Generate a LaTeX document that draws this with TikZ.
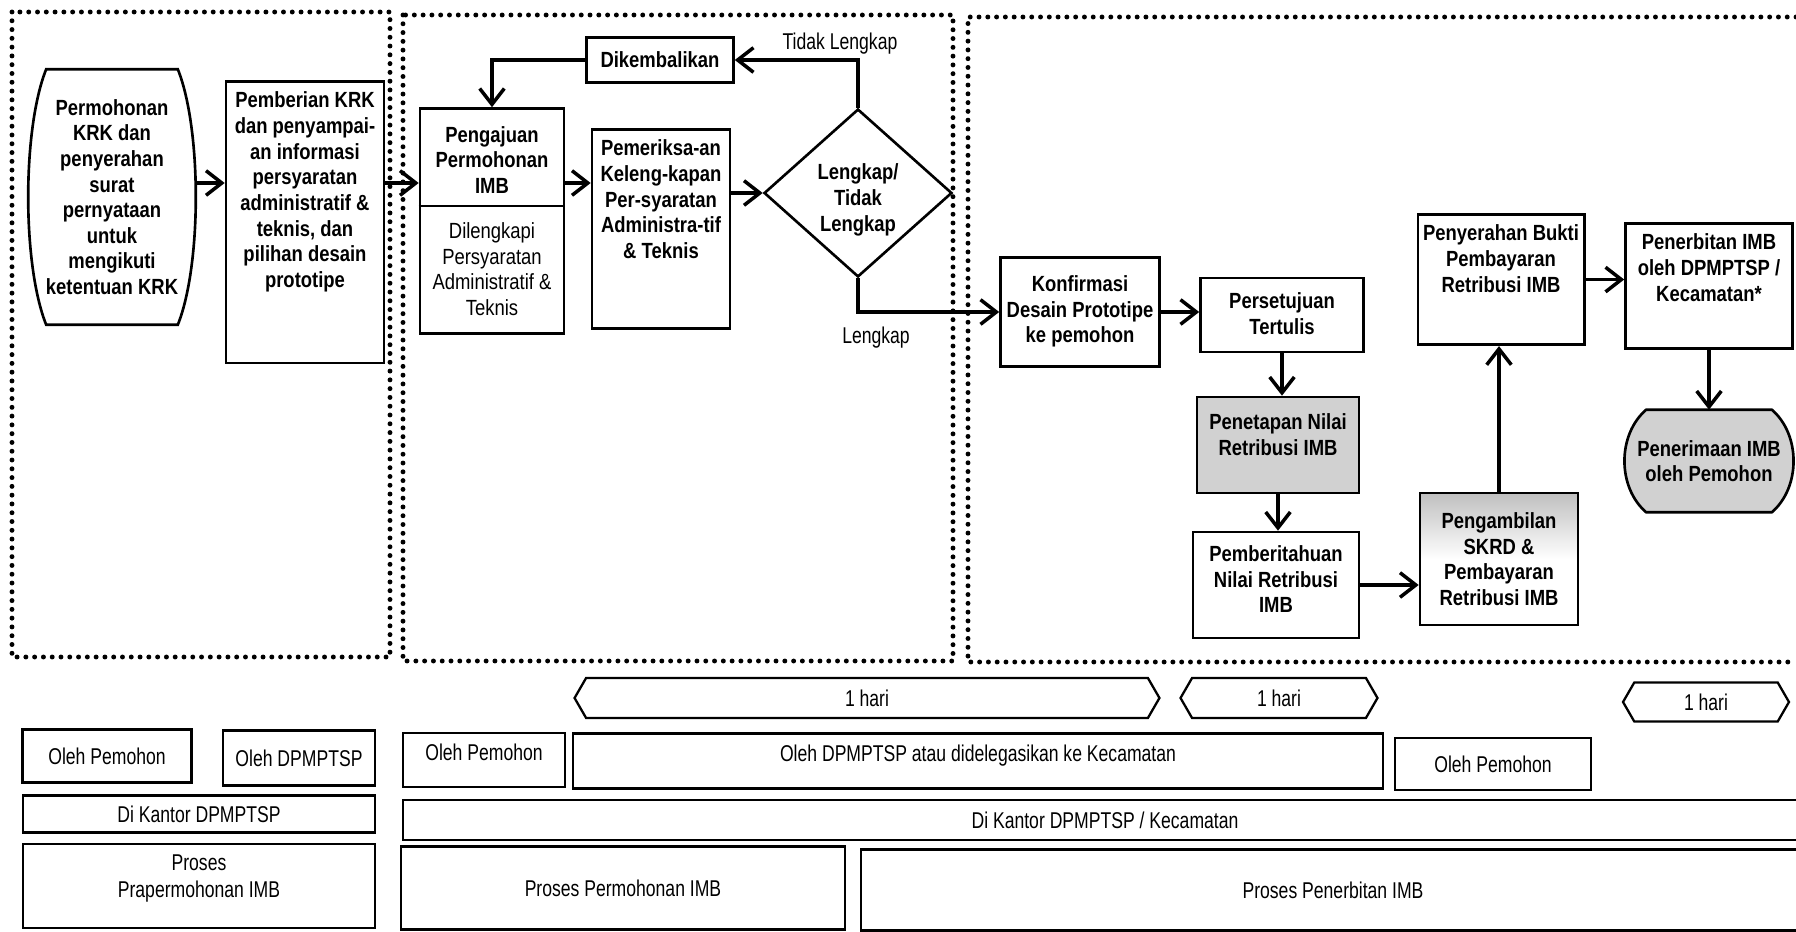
\documentclass[tikz,border=0pt]{standalone}
\usepackage{fontspec}
\setmainfont{Liberation Sans}[FakeStretch=0.84]
\newfontfamily\narrowfont{Liberation Sans}[FakeStretch=0.77]
\usetikzlibrary{arrows.meta,shapes.geometric,shapes.symbols,backgrounds}
\tikzset{
  box/.style={draw, line width=1.5pt, font=\fontsize{12.5}{14.6}\selectfont\bfseries,
    align=center, inner xsep=3pt, inner ysep=6pt},
  grey/.style={fill=black!18},
  arr/.style={line width=2pt, -{Straight Barb[length=9pt,width=14pt]}},
  zone/.style={line width=2.8pt, line cap=round, dash pattern=on 0pt off 5pt},
  cell/.style={draw, line width=1.3pt, font=\narrowfont\fontsize{13}{15.6}\selectfont,
    align=center, inner sep=2pt},
  daybox/.style={cell, signal, signal to=west and east, signal pointer angle=120},
  lbl/.style={font=\narrowfont\fontsize{13}{15.6}\selectfont}
}
% outline with bulging sides round a node
\newcommand\barrel[5][]{\draw[line width=1.5pt,#1]
  ([xshift=#3]#2.north west) -- ([xshift=-#3]#2.north east)
  .. controls +(#4,#5) and +(#4,-#5) .. ([xshift=-#3]#2.south east)
  -- ([xshift=#3]#2.south west)
  .. controls +(-#4,-#5) and +(-#4,#5) .. ([xshift=#3]#2.north west) -- cycle;}
\begin{document}
\begin{tikzpicture}[x=0.02cm,y=-0.02cm]
      \useasboundingbox (0,0) rectangle (1796,932);
      \draw[zone] (12,12) rectangle (390,657);
      \draw[zone] (403,15) rectangle (953,661);
      \draw[zone] (1796,17) -- (968,17) -- (968,662) -- (1796,662);

      \node[box, draw=none, inner xsep=0pt, minimum width=3.3cm, minimum height=5.06cm] (perm) at (112,197)
        {Permohonan\\KRK dan\\penyerahan\\surat\\pernyataan\\untuk\\mengikuti\\ketentuan KRK};
      \barrel{perm}{0.36cm}{24}{60}
      \node[box, anchor=north, minimum width=3.16cm, text depth=37pt] (pkrk) at (305,80)
        {Pemberian KRK\\dan penyampai-\\an informasi\\persyaratan\\administratif \&\\teknis, dan\\pilihan desain\\prototipe};
      \node[box, minimum width=2.88cm, minimum height=4.5cm] (paju) at (492,221)
        {Pengajuan\\Permohonan\\IMB\\[11pt]\mdseries Dilengkapi\\\mdseries Persyaratan\\\mdseries Administratif \&\\\mdseries Teknis};
      \coordinate (cut) at (0,206);
      \draw[line width=1.5pt] (paju.west |- cut) -- (paju.east |- cut);
      \node[box, anchor=north, minimum width=2.76cm, text depth=34pt] (pmrk) at (661,128)
        {Pemeriksa-an\\Keleng-kapan\\Per-syaratan\\Administra-tif\\\& Teknis};
      \node[box, minimum width=2.94cm, minimum height=0.9cm] (kmb) at (660,60) {Dikembalikan};
      \node[box, diamond, minimum width=3.76cm, minimum height=3.36cm, inner sep=0pt,
        text height=46pt] (cek) at (858,193)
        {Lengkap/\\Tidak\\Lengkap};
      \node[lbl] (tl) at (840,44) {Tidak Lengkap};
      \node[lbl] (lk) at (876,338) {Lengkap};

      \node[box, minimum width=3.18cm, minimum height=2.18cm, text depth=3pt] (konf) at (1080,312)
        {Konfirmasi\\Desain Prototipe\\ke pemohon};
      \node[box, minimum width=3.26cm, minimum height=1.48cm, text depth=2pt] (pers) at (1282,315)
        {Persetujuan\\Tertulis};
      \node[box, grey, minimum width=3.24cm, minimum height=1.92cm, text depth=12pt] (pnt) at (1278,445)
        {Penetapan Nilai\\Retribusi IMB};
      \node[box, minimum width=3.32cm, minimum height=2.12cm, text depth=6.5pt] (pbt) at (1276,585)
        {Pemberitahuan\\Nilai Retribusi\\IMB};
      \node[box, top color=black!25, bottom color=white, middle color=white,
        minimum width=3.16cm, minimum height=2.64cm] (pgb) at (1499,559)
        {Pengambilan\\SKRD \&\\Pembayaran\\Retribusi IMB};
      \node[box, anchor=north, minimum width=3.28cm, text depth=24pt] (pyr) at (1501,213)
        {Penyerahan Bukti\\Pembayaran\\Retribusi IMB};
      \node[box, anchor=north, minimum width=3.34cm, text depth=21pt] (pnb) at (1709,222)
        {Penerbitan IMB\\oleh DPMPTSP /\\Kecamatan*};
      \node[box, draw=none, inner xsep=0pt, minimum width=3.34cm, minimum height=2cm] (pnm) at (1709,461)
        {Penerimaan IMB\\oleh Pemohon};
      \begin{scope}[on background layer]
        \barrel[grey]{pnm}{0.44cm}{29}{25}
      \end{scope}

      \coordinate (row) at (0,183);
      \draw[arr] (perm.east |- row) to (pkrk.west |- row);
      \draw[arr] (pkrk.east |- row) to (paju.west |- row);
      \draw[arr] (paju.east |- row) to (pmrk.west |- row);
      \draw[arr] (pmrk.east |- cek.west) to (cek.west);
      \draw[arr] (cek.north) |- (kmb.east);
      \draw[arr] (kmb.west) -| (paju.north);
      \draw[arr] (cek.south) |- (konf.west);
      \draw[arr] (konf.east) to (konf.east -| pers.west);
      \draw[arr] (pers.south) to (pers.south |- pnt.north);
      \draw[arr] (pnt.south) to (pnt.south |- pbt.north);
      \draw[arr] (pbt.east) to (pbt.east -| pgb.west);
      \draw[arr] (pgb.north) to (pgb.north |- pyr.south);
      \draw[arr] (pyr.east) to (pyr.east -| pnb.west);
      \draw[arr] (pnb.south) to (pnb.south |- pnm.north);

      \node[daybox, minimum width=11.7cm, minimum height=0.8cm] (d1) at (867,698) {1 hari};
      \node[daybox, minimum width=3.94cm, minimum height=0.8cm] (d2) at (1279,698) {1 hari};
      \node[daybox, minimum width=3.32cm, minimum height=0.78cm] (d3) at (1706,702) {1 hari};

      \node[cell, minimum width=3.38cm, minimum height=1.06cm] (o1) at (107,756) {Oleh Pemohon};
      \node[cell, minimum width=3.04cm, minimum height=1.1cm] (o2) at (299,758) {Oleh DPMPTSP};
      \node[cell, minimum width=3.24cm, minimum height=1.08cm, text depth=9pt] (o3) at (484,760) {Oleh Pemohon};
      \node[cell, minimum width=16.2cm, minimum height=1.1cm, text depth=9pt] (o4) at (978,761)
        {Oleh DPMPTSP atau didelegasikan ke Kecamatan};
      \node[cell, minimum width=3.92cm, minimum height=1.04cm] (o5) at (1493,764) {Oleh Pemohon};

      \node[cell, minimum width=7.04cm, minimum height=0.74cm] (k1) at (199,814) {Di Kantor DPMPTSP};
      \node[cell, minimum width=28.08cm, minimum height=0.8cm] (k2) at (1105,820)
        {Di Kantor DPMPTSP / Kecamatan};

      \node[cell, minimum width=7.04cm, minimum height=1.68cm, text depth=11pt] (p1) at (199,886)
        {Proses\\Prapermohonan IMB};
      \node[cell, minimum width=8.88cm, minimum height=1.66cm] (p2) at (623,888)
        {Proses Permohonan IMB};
      \node[cell, minimum width=18.88cm, minimum height=1.62cm] (p3) at (1333,890)
        {Proses Penerbitan IMB};
    \end{tikzpicture}
\end{document}
